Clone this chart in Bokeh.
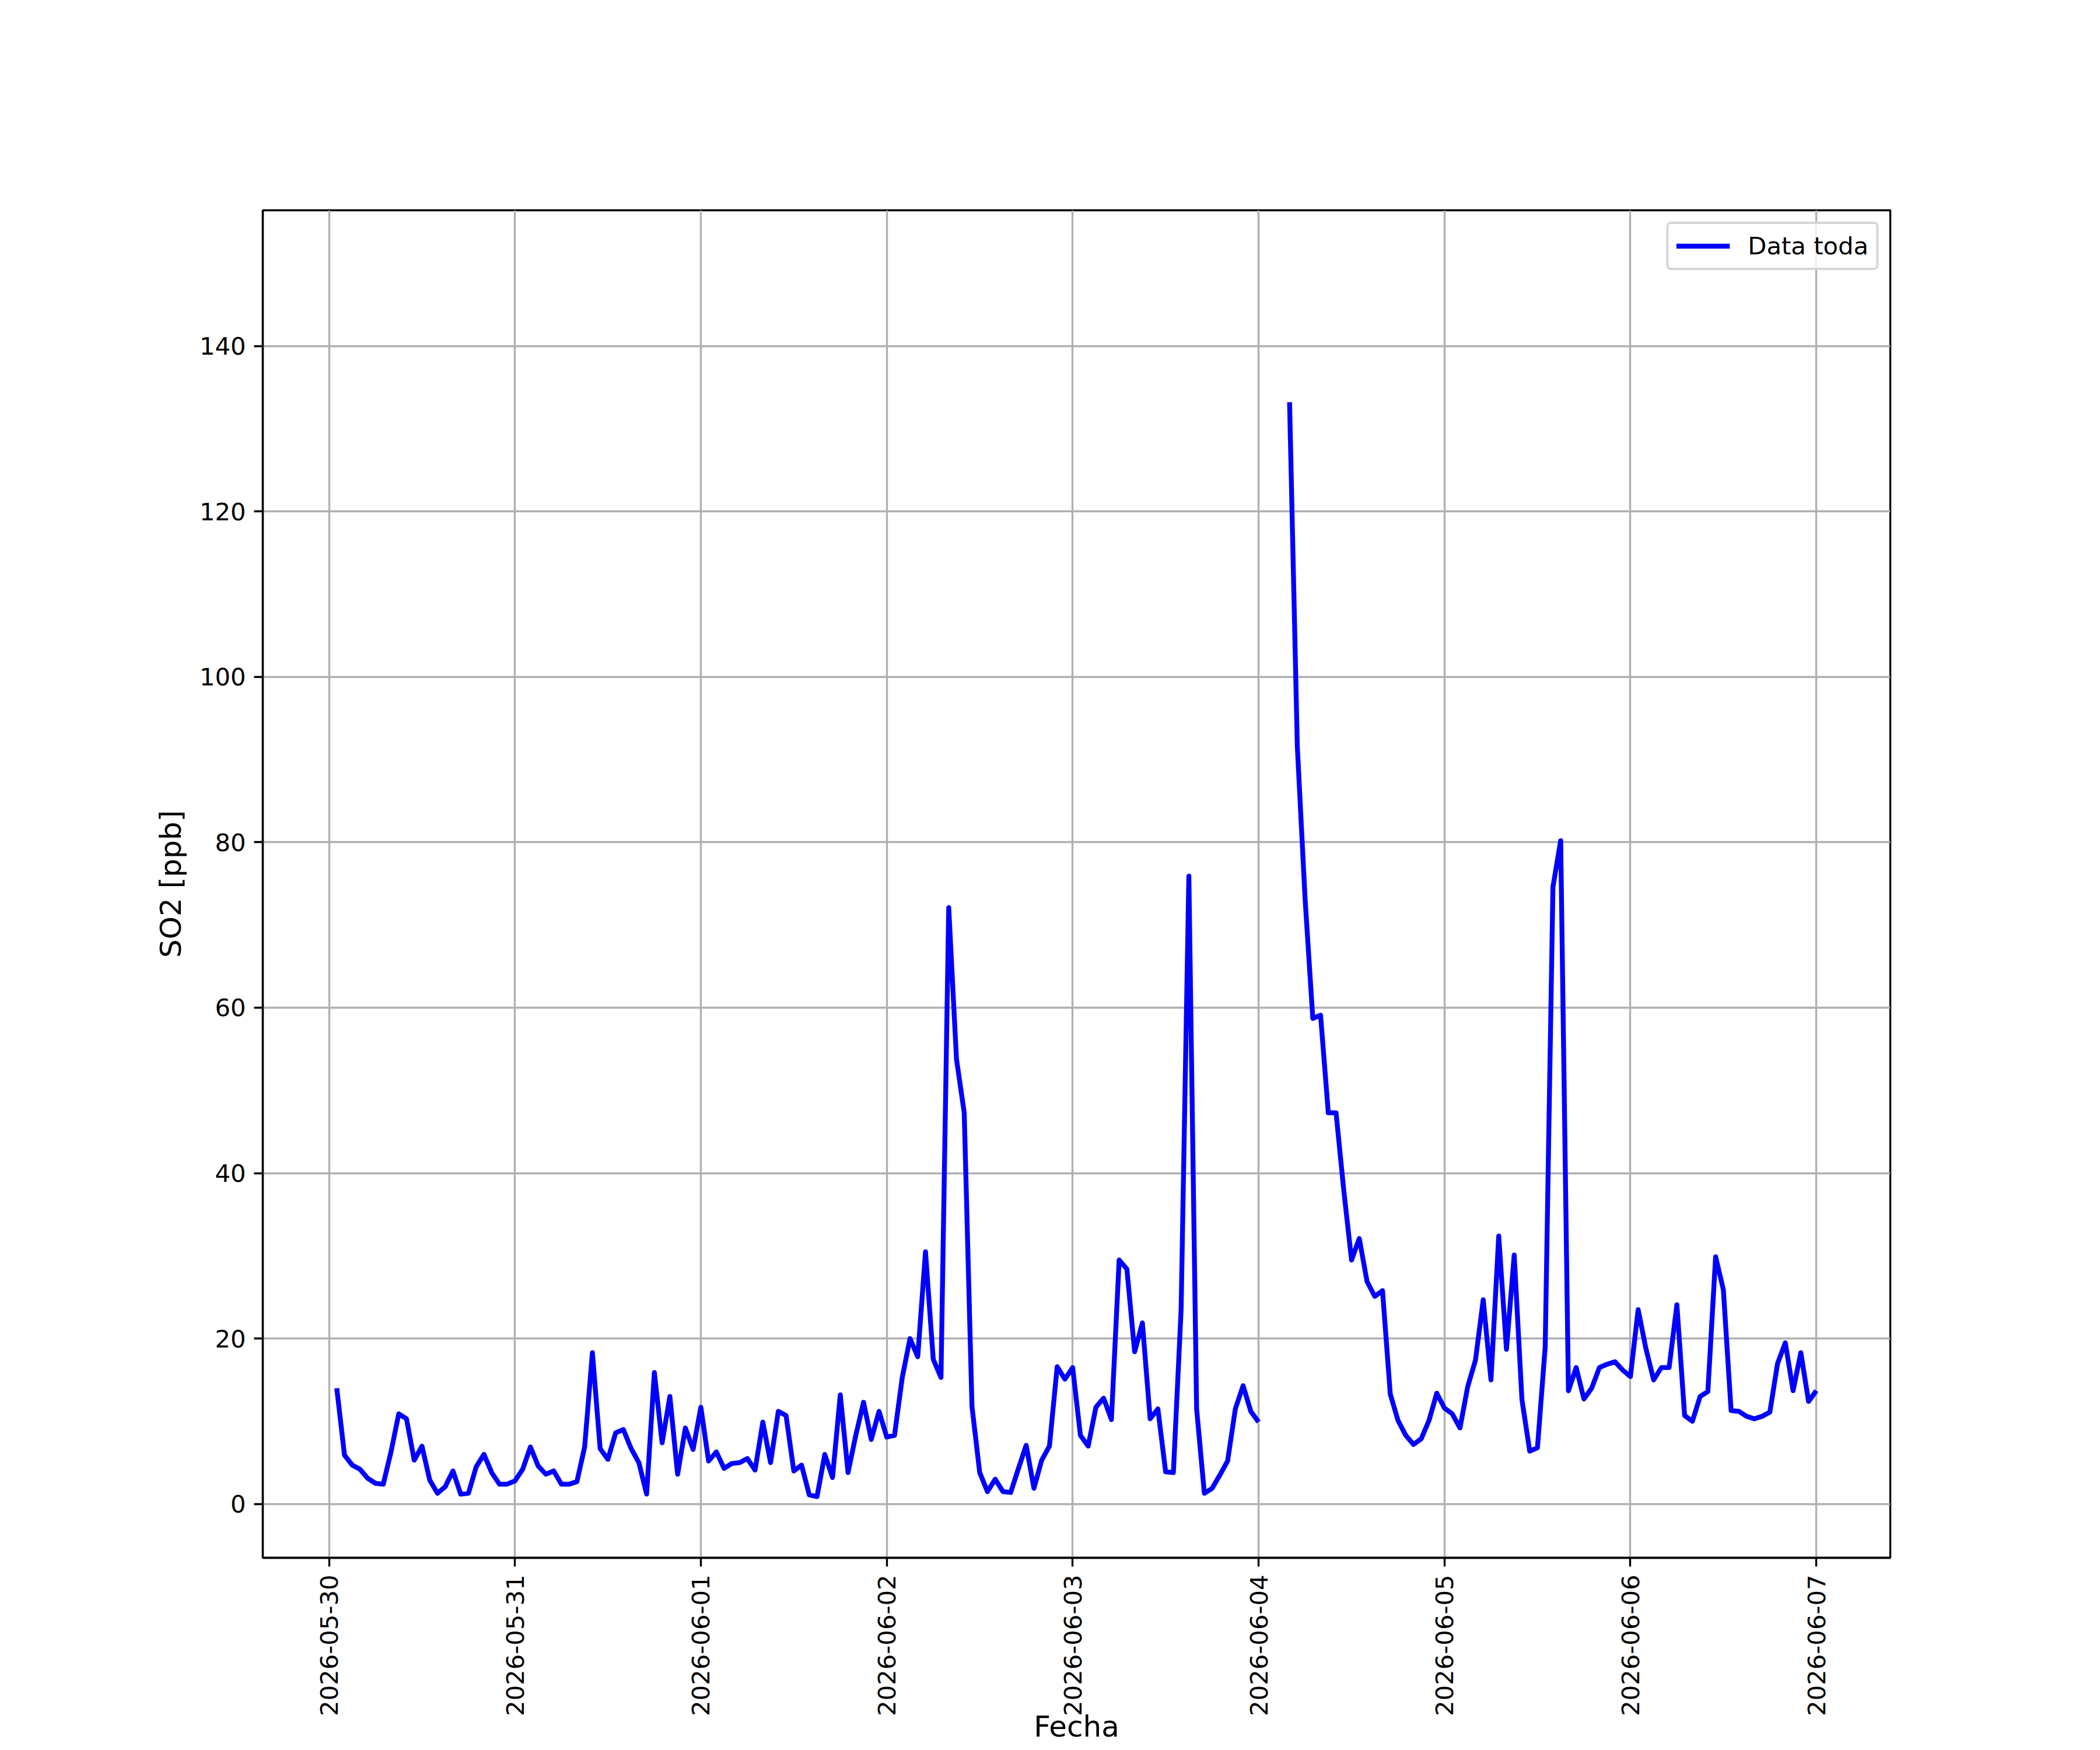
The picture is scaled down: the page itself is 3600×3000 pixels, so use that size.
import math
import pandas as pd
from bokeh.plotting import figure
from bokeh.models import Range1d, FixedTicker, DatetimeTickFormatter, ColumnDataSource
from bokeh.embed import file_html
from bokeh.resources import INLINE

NaN = float("nan")

# ---------------- data (hourly SO2, ppb) ----------------
start_time = "2026-05-30 01:00"
so2_0530 = [14.0, 5.9, 4.7, 4.2, 3.1, 2.5, 2.4, 6.3, 10.9, 10.3, 5.3, 7.0,
            2.9, 1.3, 2.1, 4.0, 1.2, 1.3, 4.5, 6.0, 3.8, 2.4, 2.4]
so2_0531 = [2.8, 4.2, 6.9, 4.6, 3.6, 4.0, 2.4, 2.4, 2.7, 6.9, 18.3, 6.7,
            5.4, 8.6, 9.0, 6.7, 5.0, 1.2, 15.9, 7.4, 13.0, 3.6, 9.2, 6.6]
so2_0601 = [11.7, 5.2, 6.3, 4.3, 4.9, 5.0, 5.5, 4.1, 9.9, 5.0, 11.2, 10.7,
            4.0, 4.7, 1.1, 0.9, 6.0, 3.2, 13.2, 3.8, 8.3, 12.3, 7.8, 11.2]
so2_0602 = [8.1, 8.3, 15.3, 20.0, 17.8, 30.5, 17.5, 15.3, 72.1, 53.8, 47.3, 11.8,
            3.8, 1.5, 3.0, 1.5, 1.4, 4.3, 7.1, 1.9, 5.3, 7.0, 16.6, 15.1]
so2_0603 = [16.5, 8.3, 7.0, 11.7, 12.8, 10.2, 29.5, 28.4, 18.4, 21.9, 10.3, 11.5,
            3.9, 3.8, 23.5, 75.9, 11.5, 1.3, 1.9, 3.5, 5.2, 11.5, 14.3, 11.2]
so2_0604 = [9.9, NaN, NaN, NaN, 133.2, 91.6, 73.2, 58.7, 59.1, 47.3, 47.3, 37.9,
            29.5, 32.1, 26.9, 25.1, 25.8, 13.3, 10.1, 8.3, 7.2, 7.9, 10.1, 13.4]
so2_0605 = [11.6, 10.9, 9.2, 14.2, 17.4, 24.7, 15.0, 32.4, 18.7, 30.1, 12.6, 6.4,
            6.8, 19.0, 74.6, 80.2, 13.7, 16.5, 12.7, 14.0, 16.5, 16.9, 17.2, 16.2]
so2_0606 = [15.4, 23.5, 18.8, 15.0, 16.5, 16.5, 24.1, 10.7, 10.0, 13.0, 13.6, 29.9,
            25.9, 11.3, 11.2, 10.6, 10.3, 10.6, 11.1, 17.0, 19.5, 13.7, 18.3, 12.4]
so2_0607 = [13.7]

tick_dates = ["2026-05-30", "2026-05-31", "2026-06-01", "2026-06-02", "2026-06-03",
              "2026-06-04", "2026-06-05", "2026-06-06", "2026-06-07"]
y_ticks = [0, 20, 40, 60, 80, 100, 120, 140]
y_limits = (-6.5, 156.4)

series_label = "Data toda"
x_label = "Fecha"
y_label = "SO2 [ppb]"

# ---------------- build ----------------
so2 = (so2_0530 + so2_0531 + so2_0601 + so2_0602 + so2_0603 + so2_0604 +
       so2_0605 + so2_0606 + so2_0607)
times = pd.date_range(start_time, periods=len(so2), freq="h")
epoch = pd.Timestamp("1970-01-01")
t_ms = [float((t - epoch) / pd.Timedelta(milliseconds=1)) for t in times]
src = ColumnDataSource(data=dict(t=t_ms, v=so2))

span = t_ms[-1] - t_ms[0]
x0 = t_ms[0] - 0.05 * span
x1 = t_ms[-1] + 0.05 * span
tick_ms = [float((pd.Timestamp(d) - epoch) / pd.Timedelta(milliseconds=1))
           for d in tick_dates]

FONT = "DejaVu Sans"
TICK_FS = "41.7px"
LABEL_FS = "50px"
LW = 3.33

FRAME_L, FRAME_T, FRAME_R, FRAME_B = 450, 360, 3240, 2670
W, H = 3592, 2992

p = figure(width=W, height=H, x_axis_type="datetime",
           x_range=Range1d(x0, x1), y_range=Range1d(*y_limits),
           output_backend="svg", toolbar_location=None,
           min_border_left=FRAME_L, min_border_top=FRAME_T,
           min_border_right=W - FRAME_R, min_border_bottom=H - FRAME_B)
p.background_fill_color = "white"
p.border_fill_color = "white"
p.outline_line_color = "black"
p.outline_line_width = LW

xticker = FixedTicker(ticks=tick_ms)
yticker = FixedTicker(ticks=y_ticks)
p.xaxis.ticker = xticker
p.yaxis.ticker = yticker
fmt = "%Y-%m-%d"
p.xaxis.formatter = DatetimeTickFormatter(
    microseconds=fmt, milliseconds=fmt, seconds=fmt, minsec=fmt, minutes=fmt,
    hourmin=fmt, hours=fmt, days=fmt, months=fmt, years=fmt)
p.xaxis.major_label_orientation = math.pi / 2

for ax in (p.xaxis[0], p.yaxis[0]):
    ax.axis_line_color = "black"
    ax.axis_line_width = LW
    ax.major_tick_line_color = "black"
    ax.major_tick_line_width = LW
    ax.major_tick_out = 15
    ax.major_tick_in = 0
    ax.minor_tick_line_color = None
    ax.major_label_text_font = FONT
    ax.major_label_text_font_size = TICK_FS
    ax.major_label_text_color = "black"
    ax.major_label_standoff = 14
    ax.axis_label_text_font = FONT
    ax.axis_label_text_font_size = LABEL_FS
    ax.axis_label_text_font_style = "normal"
    ax.axis_label_text_color = "black"

p.xaxis.axis_label = x_label
p.xaxis.axis_label_standoff = -14
p.yaxis.axis_label = y_label
p.yaxis.axis_label_standoff = 17

p.xgrid.ticker = xticker
p.ygrid.ticker = yticker
for g in (p.xgrid[0], p.ygrid[0]):
    g.grid_line_color = "#b0b0b0"
    g.grid_line_width = LW

p.line(x="t", y="v", source=src, line_color="blue", line_width=8.33,
       line_join="round", legend_label=series_label)

lg = p.legend[0]
lg.location = "top_right"
lg.margin = 20
lg.padding = 13
lg.spacing = 0
lg.glyph_width = 92
lg.glyph_height = 49
lg.label_height = 49
lg.label_standoff = 31
lg.label_text_font = FONT
lg.label_text_font_size = TICK_FS
lg.label_text_color = "black"
lg.border_line_color = "#cccccc"
lg.border_line_alpha = 0.8
lg.border_line_width = 4
lg.background_fill_color = "white"
lg.background_fill_alpha = 0.8
try:
    lg.border_radius = 8
except Exception:
    pass

open("out.html", "w").write(file_html(p, INLINE))
